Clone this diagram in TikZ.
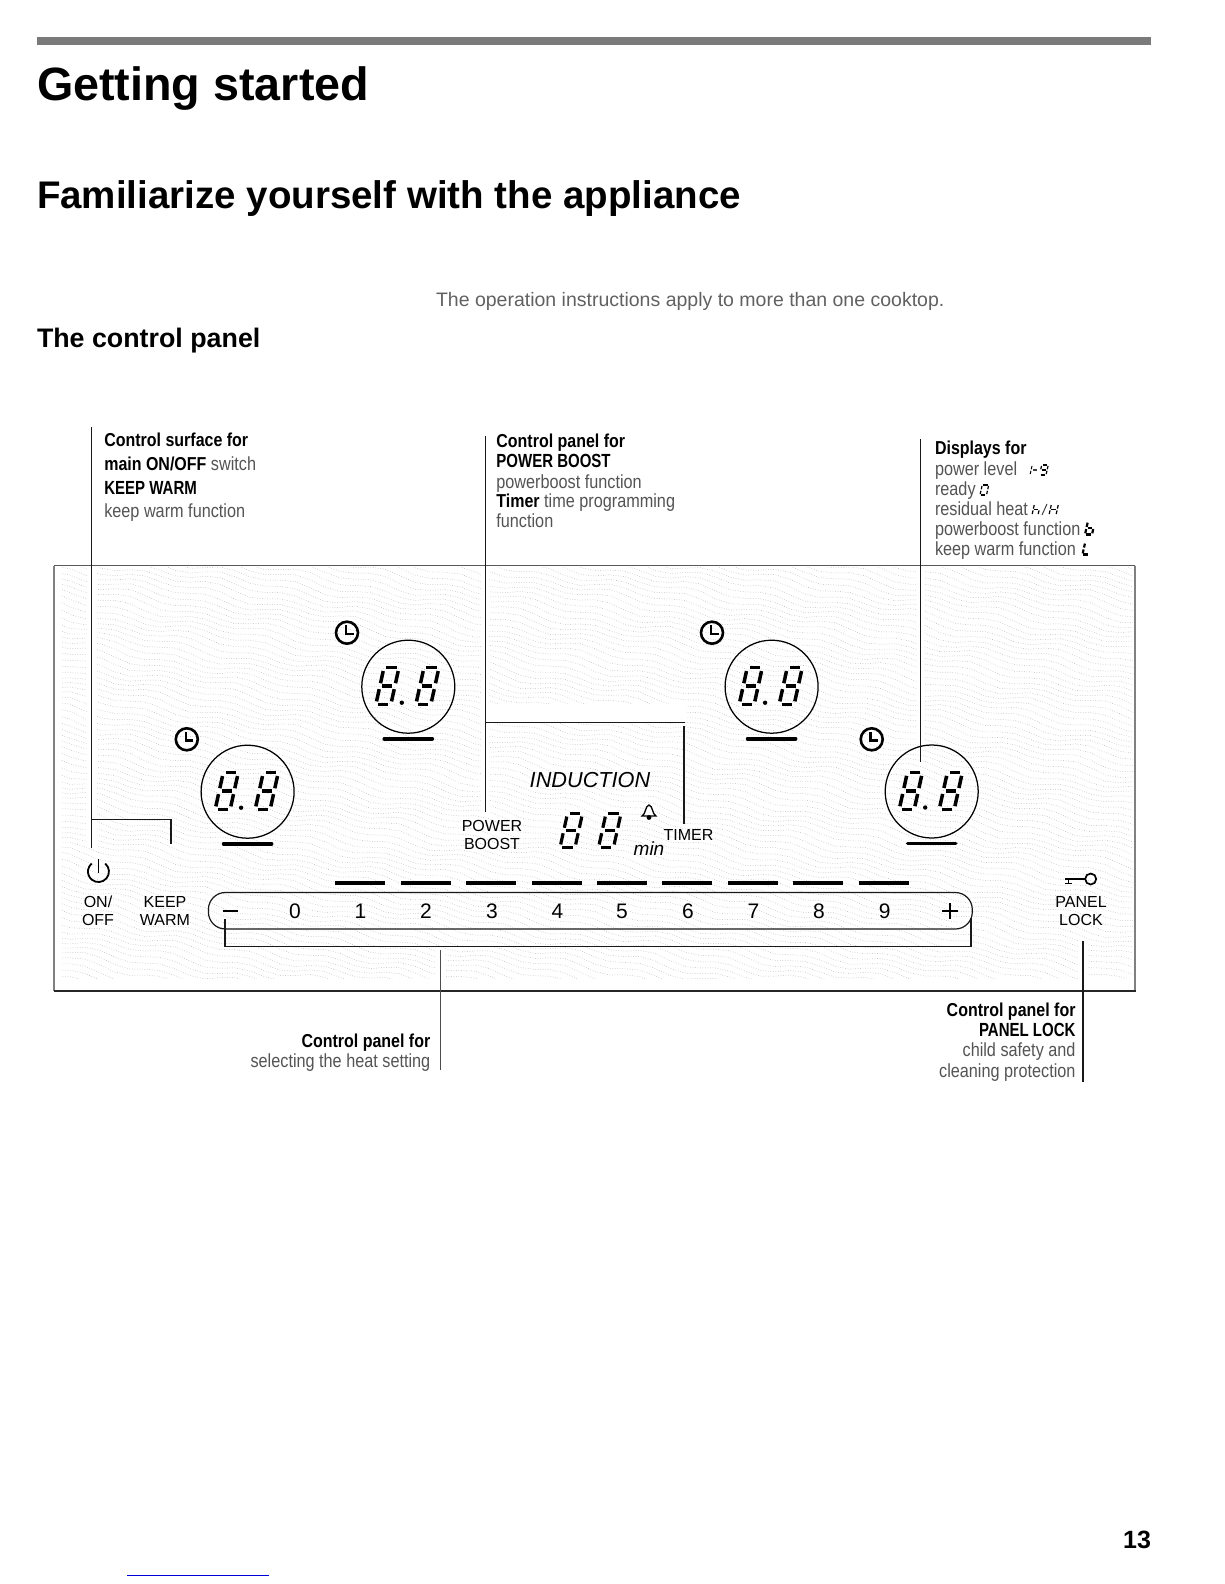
\documentclass[tikz,border=0pt]{standalone}
\usepackage{fontspec}
\setmainfont{Liberation Sans}
\newfontfamily\cond[FakeStretch=0.855]{Liberation Sans}
\newfontfamily\condcaps[FakeStretch=0.79]{Liberation Sans}
\newcommand\fsz[1]{\fontsize{#1}{#1}\selectfont}
\definecolor{lighttext}{gray}{0.33}
\tikzset{
  lab/.style={inner sep=0,outer sep=0,anchor=base west,font=\cond\fsz{19},text=black},
  labr/.style={lab,anchor=base east},
  lt/.style={text=lighttext},
  boldl/.style={font=\cond\bfseries\fsz{18.7}},
  boldcaps/.style={font=\condcaps\bfseries\fsz{19}},
  pan/.style={inner sep=0,outer sep=0,anchor=base,font=\fsz{16},text=black},
  num/.style={inner sep=0,outer sep=0,anchor=base,font=\fsz{21},text=black},
  leader/.style={line width=1.3pt,black!90},
  bar/.style={line width=3.7pt,black,line cap=round},
  ring/.style={line width=1.25pt,black},
  clk/.style={line width=2.6pt,black},
  texwave/.style={line width=0.5pt,black!28,dash pattern=on 0.7pt off 1.8pt},
  digitseg/.style={line cap=butt,black}
}
\def\Sa{\draw[digitseg] (0.16,1)--(0.84,1);}
\def\Sb{\draw[digitseg] (1,0.91)--(1,0.58);}
\def\Sc{\draw[digitseg] (1,0.42)--(1,0.09);}
\def\Sd{\draw[digitseg] (0.16,0)--(0.84,0);}
\def\Se{\draw[digitseg] (0,0.42)--(0,0.09);}
\def\Sf{\draw[digitseg] (0,0.91)--(0,0.58);}
\def\Sg{\draw[digitseg] (0.16,0.5)--(0.84,0.5);}
% x left, y bottom, w, h, line width, segment list
\newcommand\sevseg[6]{\begin{scope}[shift={(#1,#2)},x={(#3pt,0pt)},y={(0.22*#4pt,#4pt)},line width=#5pt]
  \foreach \q in {#6}{\csname S\q\endcsname}\end{scope}}
\newcommand\hob[3]{% cx, cy, name
  \node[circle,ring,draw,minimum size=93pt,inner sep=0] (#3) at (#1,#2) {};
  \sevseg{#1-32.5}{#2+18}{15}{37}{3.5}{a,b,c,d,e,f,g}
  \sevseg{#1+7.5}{#2+18}{15}{37}{3.5}{a,b,c,d,e,f,g}
  \fill (#1-6.5,#2+16) circle[radius=2.2pt];
  \draw[bar] (#1-24,#2+52) -- (#1+24,#2+52);
}
\newcommand\clock[2]{%
  \draw[clk] (#1,#2) circle[radius=11pt];
  \draw[clk] (#1-1,#2-7.5) -- (#1-1,#2+1.3) -- (#1+6.5,#2+1.3);
}
\begin{document}
\begin{tikzpicture}[x=1pt,y=-1pt]
\useasboundingbox (0,0) rectangle (1224,1584);
\fill[white] (0,0) rectangle (1224,1584);
% top rule
\fill[black!52] (36.5,37) rectangle (1151,45);
% headings
\node[lab,anchor=base west,font=\bfseries\fsz{46.7}] (h1) at (37,101) {Getting started};
\node[lab,anchor=base west,font=\bfseries\fsz{38.5}] (h2) at (37,208) {Familiarize yourself with the appliance};
\node[lab,anchor=base west,font=\bfseries\fsz{26.8}] (h3) at (37,347.5) {The control panel};
\node[lab,anchor=base west,font=\fsz{19.5},text=black!62] (intro) at (436,306) {The operation instructions apply to more than one cooktop.};
% panel texture
\begin{scope}
  \clip (61,567) rectangle (1133,978);
  \foreach \k in {310,316,...,982}{
    \draw[texwave] plot[domain=55:1135,samples=73,variable=\t] (\t,{\k+0.2*\t+3*sin(5*\t+2.5*\k)+1.5*sin(2.1*\t+7*\k)});
  }
  \fill[white] (87,566) rectangle (96.5,848);
  \fill[white] (481,566) rectangle (489,812);
  \fill[white] (488,704) rectangle (686,722);
  \fill[white] (916.5,566) rectangle (924,740);
  \fill[white] (436,948) rectangle (445,978);
  \fill[white] (1079,940) rectangle (1087,978);
\end{scope}
% panel frame
\draw[line width=0.7pt,black!65] (54,565.7) -- (1135,565.7);
\draw[line width=1.6pt,black!50] (54,565.7) -- (54,991);
\draw[line width=1.6pt,black!50] (1135,565.7) -- (1135,991);
\draw[line width=1.2pt,black!85] (53.5,991) -- (1135.5,991);
% hobs
\hob{408.3}{686.7}{hobA}
\hob{247.6}{791.7}{hobB}
\hob{771.6}{686.7}{hobC}
\hob{931.7}{791.5}{hobD}
\clock{347}{632.7}
\clock{186.8}{739.3}
\clock{712}{632.7}
\clock{871.7}{739.3}
% power symbol
\draw[line width=1.8pt] (105.2,863.5) arc[start angle=50,end angle=-230,radius=10.5pt];
\draw[line width=1.8pt] (98.4,859.3) -- (98.4,873);
% front labels
\node[pan] (on) at (98,907.3) {ON/};
\node[pan] (off) at (98,925.3) {OFF};
\node[pan] (keep) at (165,907.3) {KEEP};
\node[pan] (warm) at (165,925.3) {WARM};
\node[pan] (power) at (492,831.7) {POWER};
\node[pan] (boost) at (492,849) {BOOST};
\node[pan] (timer) at (688.5,840) {TIMER};
\node[pan] (plock) at (1081,907) {PANEL};
\node[pan] (llock) at (1081,925.7) {LOCK};
\node[pan,font=\itshape\fsz{21.7}] (ind) at (590,787.7) {INDUCTION};
\node[pan,font=\itshape\fsz{19}] (minl) at (649,855) {min};
% centre digits
\sevseg{560}{847.5}{15}{34}{3.2}{a,b,c,d,e,f,g}
\sevseg{598.5}{847.5}{15}{34}{3.2}{a,b,c,d,e,f,g}
% bell
\draw[line width=1.3pt,fill=white] (642,816) .. controls (646,814) and (645,806) .. (649,805) .. controls (653,806) and (652,814) .. (656,816) -- cycle;
\fill (649,817.5) circle[radius=2.4pt];
% key
\draw[line width=1.7pt] (1090.7,879) circle[radius=5.5pt];
\draw[line width=1.6pt] (1065,879) -- (1085.2,879);
\draw[line width=1.4pt] (1068.5,879) -- (1068.5,883.5);
\draw[line width=1.4pt] (1065,883.5) -- (1072,883.5);
% slider
\foreach \i in {0,...,8}{\draw[bar,line cap=butt] ({335.4+65.4*\i},883.3) -- ({385.4+65.4*\i},883.3);}
\draw[line width=1.2pt,black!90,rounded corners=17pt] (208.4,892.5) rectangle (972.3,929);
\draw[line width=2.3pt] (222.5,911) -- (238,911);
\node[num] (n0) at (295,918.3) {0};
\node[num] (n1) at (360.5,918.3) {1};
\node[num] (n2) at (426,918.3) {2};
\node[num] (n3) at (492,918.3) {3};
\node[num] (n4) at (557.5,918.3) {4};
\node[num] (n5) at (622,918.3) {5};
\node[num] (n6) at (688,918.3) {6};
\node[num] (n7) at (753.5,918.3) {7};
\node[num] (n8) at (819,918.3) {8};
\node[num] (n9) at (884.7,918.3) {9};
\draw[line width=2pt] (942,911) -- (958,911) (950,903) -- (950,919);
% leaders
\coordinate (a1) at (91.8,427); \coordinate (a2) at (91.8,848.3);
\coordinate (a3) at (91.8,819.3); \coordinate (a4) at (171,819.3); \coordinate (a5) at (171,844);
\draw[leader] (a1) -- (a2);
\draw[leader] (a3) -- (a4) -- (a5);
\coordinate (b1) at (485.4,435.7); \coordinate (b2) at (485.4,811.7);
\coordinate (b3) at (485.4,722.7); \coordinate (b4) at (685,722.7);
\coordinate (b5) at (684,726); \coordinate (b6) at (684,824);
\draw[leader] (b1) -- (b2);
\draw[leader] (b3) -- (b4);
\draw[leader] (b5) -- (b6);
\coordinate (c1) at (920.3,439); \coordinate (c2) at (920.3,761.7);
\draw[leader] (c1) -- (c2);
\coordinate (d1) at (225,919.3); \coordinate (d2) at (225,946.7);
\coordinate (d3) at (971,946.7); \coordinate (d4) at (971,918);
\draw[leader] (d1) -- (d2) -- (d3) -- (d4);
\coordinate (e1) at (440.3,950); \coordinate (e2) at (440.3,1070);
\draw[leader,black!70] (e1) -- (e2);
\coordinate (f1) at (1083,941); \coordinate (f2) at (1083,1082);
\draw[leader] (f1) -- (f2);
% callout block 1
\node[lab,boldl] (t1a) at (104.3,446.7) {Control surface for};
\node[lab] (t1b) at (104.3,470) {{\bfseries\fsz{18.7}main ON/OFF} \textcolor{lighttext}{switch}};
\node[lab,boldcaps] (t1c) at (104.3,494) {KEEP WARM};
\node[lab,lt] (t1d) at (104.3,517.7) {keep warm function};
% callout block 2
\node[lab,boldl] (t2a) at (496.4,447.3) {Control panel for};
\node[lab,boldcaps] (t2b) at (496.4,467.3) {POWER BOOST};
\node[lab,lt] (t2c) at (496.4,488.3) {powerboost function};
\node[lab] (t2d) at (496.4,507.7) {{\bfseries\fsz{18.7}Timer} \textcolor{lighttext}{time programming}};
\node[lab,lt] (t2e) at (496.4,527.7) {function};
% callout block 3
\node[lab,boldl] (t3a) at (935,454.3) {Displays for};
\node[lab,lt] (t3b) at (935,475) {power level};
\node[lab,lt] (t3c) at (935,495) {ready};
\node[lab,lt] (t3d) at (935,515) {residual heat};
\node[lab,lt] (t3e) at (935,535) {powerboost function};
\node[lab,lt] (t3f) at (935,555) {keep warm function};
% small display glyphs
\sevseg{1027.5}{475}{2.5}{10}{1}{b,c}
\draw[line width=1.1pt,black!75] (1033,470) -- (1037,470);
\sevseg{1039.5}{475}{6.5}{10}{1.2}{a,b,c,d,f,g}
\sevseg{980}{495}{6.5}{10}{1.2}{a,b,c,d,e,f}
\sevseg{1032}{515}{6}{11}{1.2}{c,e,f,g}
\draw[line width=1pt,black!75] (1042,515) -- (1047,504);
\sevseg{1049}{515}{7}{11}{1.2}{b,c,e,f,g}
\sevseg{1085}{534.5}{7}{13}{2.2}{c,d,e,f,g}
\sevseg{1082.5}{554.5}{6}{12}{2.2}{d,e,f}
% callout block 4
\node[labr,boldl] (t4a) at (430.3,1047.7) {Control panel for};
\node[labr,lt] (t4b) at (430.3,1067.7) {selecting the heat setting};
% callout block 5
\node[labr,boldl] (t5a) at (1075.5,1016) {Control panel for};
\node[labr,boldcaps] (t5b) at (1075.5,1036) {PANEL LOCK};
\node[labr,lt] (t5c) at (1075.5,1056.7) {child safety and};
\node[labr,lt] (t5d) at (1075.5,1077) {cleaning protection};
% footer
\node[labr,font=\bfseries\fsz{25}] (page) at (1151,1548) {13};
\draw[line width=1pt,blue!85!black] (127,1575.7) -- (269,1575.7);
\end{tikzpicture}
\end{document}
